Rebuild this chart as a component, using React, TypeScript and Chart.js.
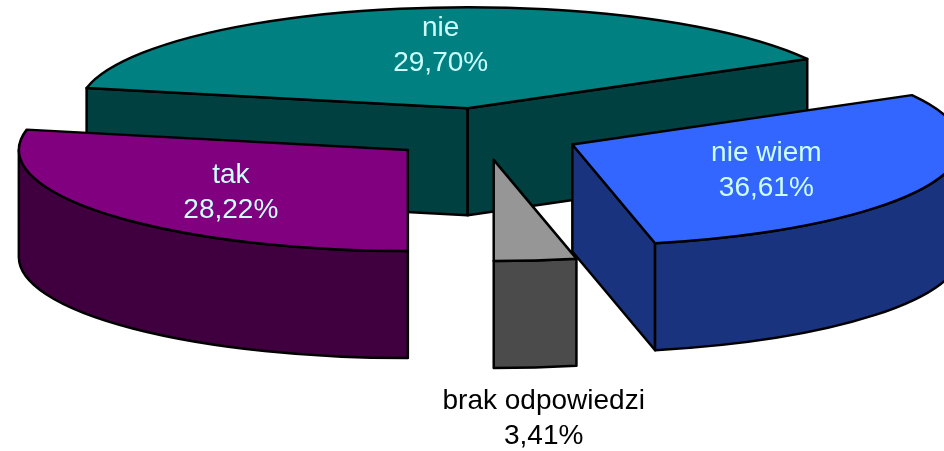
import React, { useEffect, useRef } from "react";
import { Chart, registerables } from "chart.js";

Chart.register(...registerables);

// Slice order, clockwise from the upper right of the pie.
const categories = ["nie wiem", "brak odpowiedzi", "tak", "nie"];
// Arc sizes as they are drawn in the picture (the last one is the remainder of the circle).
const arcShares = [29.7, 3.41, 28.22, 38.67];
// Percentages as they are printed beside each slice in the picture.
const printedPercents = ["36,61%", "3,41%", "28,22%", "29,70%"];

const topColors = ["#3366FF", "#969696", "#800080", "#008080"];
const sideColors = ["#1A337F", "#4B4B4B", "#400040", "#004040"];
const labelColors = ["#CCFFFF", "#000000", "#CCFFFF", "#CCFFFF"];
const labelShift = [[194, 26], [50, 259], [-177, 43], [-27, -63]];
const explode = [98, 100, 97, 100];

const TILT = 0.26;
const DEPTH = 107;
const FONT = '28px "Liberation Sans", Arial, sans-serif';
const LINE_GAP = 35;

function apexOf(el: any) {
  const mid = (el.startAngle + el.endAngle) / 2;
  const off = el.options.offset || 0;
  return { x: el.x + off * Math.cos(mid), y: el.y + off * Math.sin(mid) * TILT };
}

const pie3d = {
  id: "pie3d",
  beforeDatasetDraw(chart: any) {
    const ctx = chart.ctx;
    const arcs = chart.getDatasetMeta(0).data.map((el: any, i: number) => ({ el, i, apex: apexOf(el) }));
    arcs.sort((a: any, b: any) => a.apex.y - b.apex.y);
    ctx.save();
    ctx.lineWidth = 2.5;
    ctx.lineJoin = "round";
    ctx.strokeStyle = "#000000";
    for (const { el, i, apex } of arcs) {
      const R = el.outerRadius;
      const ry = R * TILT;
      const s = el.startAngle;
      const e = el.endAngle;
      const pt = (a: number, dy = 0) => [apex.x + R * Math.cos(a), apex.y + ry * Math.sin(a) + dy];

      const radialFace = (a: number) => {
        const p = pt(a);
        ctx.beginPath();
        ctx.moveTo(apex.x, apex.y);
        ctx.lineTo(p[0], p[1]);
        ctx.lineTo(p[0], p[1] + DEPTH);
        ctx.lineTo(apex.x, apex.y + DEPTH);
        ctx.closePath();
        ctx.fillStyle = sideColors[i];
        ctx.fill();
        ctx.stroke();
      };
      // A radial face is seen only if its outward normal points towards the viewer.
      if (-Math.cos(s) > 1e-3) radialFace(s);
      if (Math.cos(e) > 1e-3) radialFace(e);

      // Outer rim: the part of the arc on the near half of the ellipse.
      for (let n = -1; n <= 1; n++) {
        const a = Math.max(s, n * 2 * Math.PI);
        const b = Math.min(e, Math.PI + n * 2 * Math.PI);
        if (b <= a) continue;
        ctx.beginPath();
        ctx.ellipse(apex.x, apex.y, R, ry, 0, a, b);
        ctx.ellipse(apex.x, apex.y + DEPTH, R, ry, 0, b, a, true);
        ctx.closePath();
        ctx.fillStyle = sideColors[i];
        ctx.fill();
        ctx.stroke();
      }

      ctx.beginPath();
      ctx.moveTo(apex.x, apex.y);
      ctx.ellipse(apex.x, apex.y, R, ry, 0, s, e);
      ctx.closePath();
      ctx.fillStyle = topColors[i];
      ctx.fill();
      ctx.stroke();
    }
    ctx.restore();
    return false;
  },
  afterDatasetsDraw(chart: any) {
    const ctx = chart.ctx;
    ctx.save();
    ctx.font = FONT;
    ctx.textAlign = "center";
    ctx.textBaseline = "middle";
    chart.getDatasetMeta(0).data.forEach((el: any, i: number) => {
      const apex = apexOf(el);
      const x = apex.x + labelShift[i][0];
      const y = apex.y + labelShift[i][1];
      ctx.fillStyle = labelColors[i];
      ctx.fillText(categories[i], x, y - LINE_GAP / 2);
      ctx.fillText(printedPercents[i], x, y + LINE_GAP / 2);
    });
    ctx.restore();
  },
};

export default function App() {
  const ref = useRef<HTMLCanvasElement | null>(null);
  useEffect(() => {
    document.body.style.margin = "0";
    document.body.style.background = "#ffffff";
    const chart = new Chart(ref.current as HTMLCanvasElement, {
      type: "pie",
      data: {
        labels: categories,
        datasets: [
          {
            data: arcShares,
            backgroundColor: topColors,
            borderColor: "#000000",
            borderWidth: 2,
            offset: explode,
            radius: 389,
            rotation: 60.8,
          } as any,
        ],
      },
      options: {
        responsive: false,
        animation: false,
        events: [],
        layout: { padding: { left: 22, right: 0, top: 0, bottom: 183 } },
        plugins: { legend: { display: false }, tooltip: { enabled: false } },
      },
      plugins: [pie3d],
    } as any);
    return () => chart.destroy();
  }, []);
  return <canvas ref={ref} width={944} height={451} style={{ display: "block" }} />;
}
